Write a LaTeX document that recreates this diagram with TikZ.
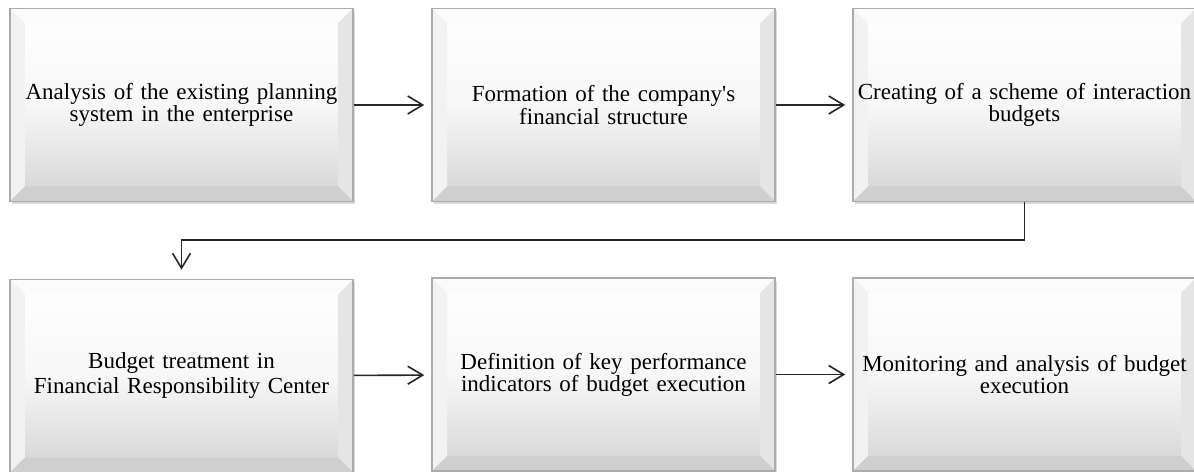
\documentclass[tikz,border=0pt]{standalone}
\usepackage{fontspec}
\setmainfont{Liberation Serif}[WordSpace=0.45, Ligatures=TeXOff]
\usetikzlibrary{arrows.meta,shadows}

\begin{document}
\begin{tikzpicture}[x=1bp, y=1bp,
    bevel/.style={draw=gray!65, line width=1.5bp, minimum width=343bp, minimum height=193bp,
        inner sep=0pt, text width=335bp, align=center,
        font=\fontsize{23bp}{18bp}\selectfont,
        top color=white, bottom color=gray!34, middle color=white!94!gray,
        drop shadow={shadow xshift=2bp, shadow yshift=-3bp, opacity=.3},
        path picture={
            \fill[white!97!gray] (path picture bounding box.north west) -- (path picture bounding box.north east)
                -- ([shift={(-15bp,-15bp)}]path picture bounding box.north east) -- ([shift={(15bp,-15bp)}]path picture bounding box.north west) -- cycle;
            \fill[gray!10] (path picture bounding box.north west) -- ([shift={(15bp,-15bp)}]path picture bounding box.north west)
                -- ([shift={(15bp,15bp)}]path picture bounding box.south west) -- (path picture bounding box.south west) -- cycle;
            \fill[gray!20] (path picture bounding box.north east) -- ([shift={(-15bp,-15bp)}]path picture bounding box.north east)
                -- ([shift={(-15bp,15bp)}]path picture bounding box.south east) -- (path picture bounding box.south east) -- cycle;
            \fill[gray!38] (path picture bounding box.south west) -- ([shift={(15bp,15bp)}]path picture bounding box.south west)
                -- ([shift={(-15bp,15bp)}]path picture bounding box.south east) -- (path picture bounding box.south east) -- cycle;
        }},
    flow/.style={-{Straight Barb[length=15bp, width=18bp]}, line width=1.6bp, black!85, shorten >=7bp}]
    \useasboundingbox (0,0) rectangle (1194,-472);

    % first row
    \node[name=b1, bevel] at (181.5,-105) {Analysis of the existing planning\\system in the enterprise};
    \node[name=b2, bevel] at (603.5,-105) {Formation of the company's\\financial structure};
    \node[name=b3, bevel] at (1024.5,-105) {Creating of a scheme of interaction\\budgets};

    % second row
    \node[name=b4, bevel, font=\fontsize{23bp}{25bp}\selectfont] at (181.5,-376) {Budget treatment in\\Financial Responsibility Center};
    \node[name=b5, bevel] at (603.5,-374.5) {Definition of key performance\\indicators of budget execution};
    \node[name=b6, bevel] at (1024.5,-374.5) {Monitoring and analysis of budget\\execution};

    \draw[flow] (b1) -- (b2);
    \draw[flow] (b2) -- (b3);
    \draw[flow, shorten >=9bp] (b3.south) -- ++(0,-38) -| (b4.north);
    \draw[flow] (b4) -- (b5);
    \draw[flow] (b5) -- (b6);
\end{tikzpicture}
\end{document}
